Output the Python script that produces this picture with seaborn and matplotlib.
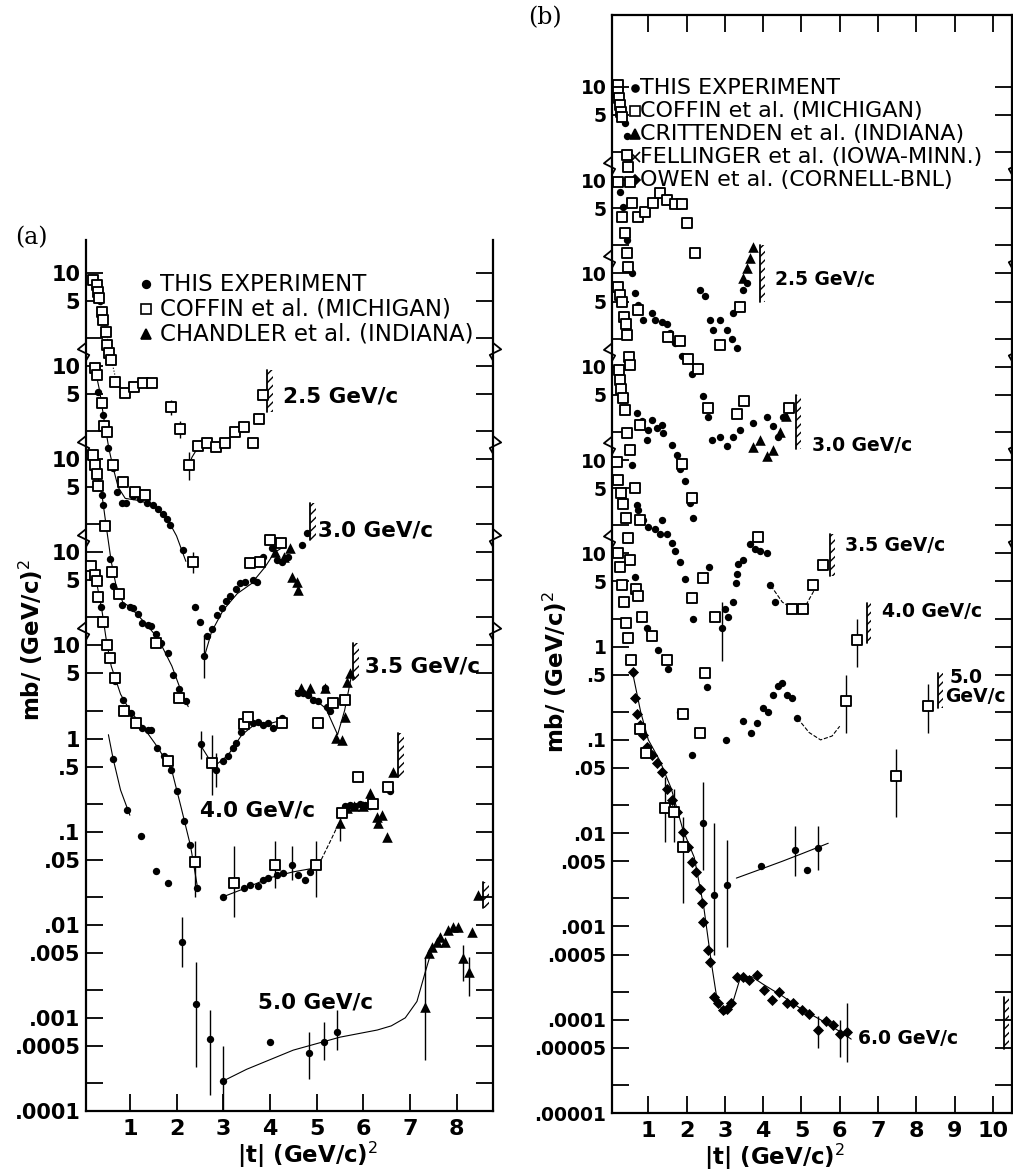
import numpy as np
import pandas as pd
import seaborn as sns
import matplotlib.pyplot as plt
from matplotlib.ticker import FixedLocator, FixedFormatter, NullLocator

sns.set_theme(style="white")
plt.rcParams["font.family"] = ["DejaVu Sans"]
plt.rcParams["text.color"] = "black"
plt.rcParams["hatch.linewidth"] = 1.0

# ---------------- panel (a) data, dsigma/dt in mb/(GeV/c)^2 ----------------
shift_a = {"2.5": 4, "3.0": 3, "3.5": 2, "4.0": 1, "5.0": 0}

a25_sq_t = [.21, .30, .32, .34, .41, .43, .49, .51, .56, .60, .69, .90, 1.09, 1.28, 1.48, 1.88, 2.08,
            2.27, 2.46, 2.66, 2.85, 3.04, 3.25, 3.45, 3.64, 3.77, 3.85]
a25_sq_v = [8.5, 7.4, 6.3, 5.4, 3.8, 3.1, 2.3, 1.7, 1.4, 1.17, .68, .52, .60, .66, .66, .36, .21,
            .087, .14, .15, .135, .15, .195, .22, .15, .27, .49]
a25_dot_t = [.36]
a25_dot_v = [5.0]

a30_dot_t = [.32, .43, .54, .64, .73, .84, .92, 1.07, 1.22, 1.37, 1.50, 1.61, 1.71, 1.80, 1.86, 2.14,
             2.40, 2.51, 2.59, 2.66, 2.76, 2.87, 2.98, 3.06, 3.15, 3.28, 3.36, 3.47, 3.64, 3.73, 3.85,
             4.05, 4.15, 4.26, 4.39, 4.69, 4.80]
a30_dot_v = [5.3, 3.0, 1.32, .81, .45, .34, .34, .40, .37, .34, .32, .29, .26, .23, .196, .105,
             .026, .018, .0077, .0126, .015, .021, .025, .030, .034, .040, .047, .048, .050, .048, .089,
             .112, .083, .079, .089, .12, .162]
a30_sq_t = [.26, .30, .41, .45, .51, .64, .86, 1.11, 1.33, 2.36, 3.58, 3.79, 4.00, 4.24]
a30_sq_v = [9.6, 8.1, 4.0, 2.3, 1.96, .87, .57, .45, .41, .078, .077, .079, .135, .126]
a30_tri_t = [4.10, 4.30, 4.43, 4.48, 4.58, 4.60]
a30_tri_v = [.10, .09, .11, .055, .048, .039]

a35_dot_t = [.41, .43, .58, .64, .84, 1.0, 1.07, 1.18, 1.26, 1.39, 1.46, 1.56, 1.67, 1.82, 1.93, 2.06,
             2.21, 2.53, 2.85, 3.0, 3.10, 3.21, 3.28, 3.38, 3.64, 3.75, 3.85, 3.96, 4.07, 4.26, 4.60,
             4.71, 4.82, 4.93, 5.03, 5.18, 5.22, 5.29]
a35_dot_v = [4.1, 3.2, .85, .44, .27, .26, .25, .22, .175, .167, .16, .133, .106, .083, .048, .034,
             .025, .0087, .0046, .0058, .0065, .0079, .0089, .0118, .0147, .015, .014, .0147, .0129, .0166,
             .031, .031, .029, .026, .025, .035, .022, .020]
a35_sq_t = [.21, .26, .30, .32, .47, .62, .77, 1.56, 2.06, 2.76, 3.45, 3.53, 4.26, 5.03, 5.35, 5.61]
a35_sq_v = [11, 8.7, 6.9, 5.2, 1.9, .62, .36, .106, .027, .0055, .0144, .017, .0147, .0147, .024, .026]
a35_tri_t = [4.67, 4.86, 5.18, 5.42, 5.55, 5.61, 5.65, 5.72]
a35_tri_v = [.035, .035, .035, .0102, .0096, .017, .040, .050]

a40_dot_t = [.39, .69, .86, 1.03, 1.26, 1.39, 1.46, 1.58, 1.73, 1.88, 2.01, 2.16, 2.29, 2.44, 3.0,
             3.45, 3.58, 3.75, 3.85, 3.96, 4.15, 4.28, 4.48, 4.60, 4.75, 4.86, 5.61, 5.72, 5.82, 5.93,
             6.04, 6.15, 6.57]
a40_dot_v = [2.6, .41, .26, .19, .13, .124, .124, .079, .065, .046, .027, .013, .0071, .0025, .002,
             .0025, .0027, .0026, .0030, .0032, .0034, .0036, .0044, .0034, .0030, .0037, .019, .0195,
             .019, .020, .0195, .019, .027]
a40_sq_t = [.17, .26, .30, .32, .43, .51, .58, .69, .88, 1.13, 1.82, 2.40, 3.23, 4.11, 4.99, 5.55,
            5.89, 6.21, 6.53]
a40_sq_v = [7.2, 5.7, 4.9, 3.3, 1.8, 1.02, .74, .45, .20, .148, .057, .0047, .0028, .0044, .0044, .016,
            .039, .020, .030]
a40_tri_t = [5.50, 5.65, 5.80, 6.0, 6.15, 6.30, 6.32, 6.40, 6.51, 6.64]
a40_tri_v = [.0124, .018, .019, .019, .026, .0144, .0124, .015, .0088, .044]

a50_dot_t = [.64, .94, 1.24, 1.56, 1.82, 2.12, 2.42, 2.72, 3.0, 4.0, 4.84, 5.16, 5.44]
a50_dot_v = [.61, .17, .089, .038, .028, .0066, .0014, .00059, .00021, .00055, .00042, .00055, .0007]
a50_tri_t = [7.32, 7.41, 7.47, 7.57, 7.64, 7.75, 7.82, 7.92, 8.03, 8.14, 8.27, 8.33, 8.46]
a50_tri_v = [.0013, .005, .0058, .0066, .0074, .0065, .0088, .0095, .0095, .0044, .0031, .0084, .021]

# hand-drawn curves through the points
a25_fit_t = [.2, .3, .4, .5, .6, .7, .8, .9]
a25_fit_v = [8.6, 6.8, 4.2, 2.2, 1.2, .72, .58, .52]
a25_fit2_t = [2.27, 2.33, 2.4, 2.5, 2.6, 2.75]
a25_fit2_v = [.087, .105, .12, .13, .14, .145]
a30_fit_t = [.25, .35, .45, .55, .65, .75, .9, 1.2, 1.5, 1.8, 2.0, 2.2]
a30_fit_v = [9.5, 5.5, 2.6, 1.3, .78, .5, .38, .36, .32, .23, .15, .08]
a30_fit2_t = [2.6, 2.75, 3.0, 3.3, 3.6, 3.9, 4.1, 4.3]
a30_fit2_v = [.0077, .014, .024, .036, .046, .07, .1, .115]
a35_fit_t = [.22, .3, .4, .5, .6, .7, .85, 1.0, 1.3, 1.6, 1.9, 2.1, 2.25]
a35_fit_v = [11, 7, 4.2, 1.8, .8, .45, .29, .26, .18, .12, .06, .032, .022]
a35_fit2_t = [2.5, 2.8, 3.1, 3.4, 3.7, 4.0, 4.3]
a35_fit2_v = [.0087, .005, .0066, .011, .0145, .0145, .016]
a35_fit3_t = [4.55, 4.9, 5.2, 5.45, 5.6, 5.75]
a35_fit3_v = [.033, .028, .021, .011, .02, .048]
a40_fit_t = [.17, .3, .4, .5, .6, .8, 1.0, 1.3, 1.6, 1.9, 2.1, 2.3, 2.45]
a40_fit_v = [7.2, 4.4, 2.4, 1.1, .6, .3, .2, .13, .08, .045, .018, .007, .0025]
a40_fit2_t = [3.0, 3.5, 4.0, 4.5, 5.0]
a40_fit2_v = [.002, .0025, .0032, .0037, .0041]
a40_fit3_t = [5.1, 5.3, 5.5]
a40_fit3_v = [.005, .008, .013]
a50_fit_t = [.54, .64, .8, 1.0]
a50_fit_v = [1.1, .61, .28, .15]
a50_fit2_t = [3.0, 3.5, 4.5, 5.5, 6.3, 6.6, 6.9, 7.15, 7.32, 7.45]
a50_fit2_v = [.00021, .00028, .00045, .00062, .00074, .00082, .001, .0015, .003, .005]

# error bars (momentum, t, low, high)
a_err_p = ["2.5", "2.5", "2.5", "3.0", "3.0", "3.5", "3.5", "3.5", "4.0", "4.0", "4.0", "4.0", "4.0",
           "4.0", "5.0", "5.0", "5.0", "5.0", "5.0", "5.0", "5.0", "5.0", "5.0", "5.0"]
a_err_t = [1.88, 2.08, 2.27, 2.59, 2.36, 2.76, 2.85, 2.53, 2.40, 3.23, 4.11, 4.48, 4.99, 5.5,
           2.12, 2.42, 2.72, 3.0, 4.84, 5.16, 5.44, 7.32, 8.14, 8.27]
a_err_lo = [.3, .17, .06, .0045, .06, .0025, .003, .006, .002, .0012, .0025, .003, .002, .008,
            .0035, .0003, .00015, .0001, .00022, .00035, .00045, .00035, .0025, .0017]
a_err_hi = [.43, .26, .12, .013, .1, .011, .007, .012, .008, .007, .008, .007, .008, .017,
            .012, .004, .0012, .0005, .0007, .0009, .0012, .0045, .006, .0045]

# kinematic limits (t, low, high)
a_lim_p = ["2.5", "3.0", "3.5", "4.0", "5.0"]
a_lim_t = [3.94, 4.86, 5.78, 6.75, 8.57]
a_lim_lo = [.32, .135, .043, .039, .015]
a_lim_hi = [.91, .34, .107, .115, .029]

# ---------------- panel (b) data ----------------
shift_b = {"2.5": 5, "3.0": 4, "3.5": 3, "4.0": 2, "5.0": 1, "6.0": 0}

b25_sq_t = [.20, .22, .24, .26, .28, .30, .44, .47, .52, .57, .73, .91, 1.12, 1.31, 1.49, 1.70, 1.88,
            2.01, 2.22, 2.87, 3.39]
b25_sq_v = [10.4, 8.8, 7.6, 6.4, 5.4, 4.7, 1.85, 1.38, .95, .57, .40, .45, .57, .72, .61, .55, .55,
            .35, .166, .017, .044]
b25_dot_t = [.39, .44, 2.35, 2.48, 2.61, 2.69, 2.87, 3.05, 3.19, 3.32, 3.21, 3.47, 3.58]
b25_dot_v = [4.1, 3.0, .066, .057, .032, .025, .032, .025, .020, .016, .038, .066, .078]
b25_tri_t = [3.47, 3.58, 3.66, 3.73]
b25_tri_v = [.089, .115, .147, .19]

b30_dot_t = [.26, .34, .44, .57, .65, .73, .86, 1.10, 1.17, 1.36, 1.49, 1.57, 1.70, 1.88, 2.14, 2.43,
             2.56, 2.66, 2.87, 3.05, 3.21, 3.39, 3.73, 4.10, 4.26, 4.39, 4.52]
b30_dot_v = [7.4, 5.1, 2.3, 1.0, .62, .46, .32, .38, .32, .30, .29, .23, .18, .13, .083, .049,
             .029, .0163, .0175, .014, .0175, .021, .025, .029, .023, .0175, .029]
b30_sq_t = [.20, .31, .39, .44, .47, .73, 1.51, 1.83, 2.04, 2.30, 2.56, 3.32, 3.50, 4.67]
b30_sq_v = [9.5, 4.0, 2.7, 1.65, 1.17, .41, .21, .19, .12, .094, .036, .031, .043, .036]
b30_tri_t = [3.73, 3.92, 4.10, 4.26, 4.45, 4.6]
b30_tri_v = [.0138, .0163, .011, .0128, .02, .03]

b35_sq_t = [.21, .26, .31, .37, .42, .44, .50, .52, .78, 1.88, 2.14, 2.43, 2.74, 3.86, 4.75, 5.04,
            5.30, 5.56]
b35_sq_v = [7.1, 5.9, 4.9, 3.4, 2.9, 2.2, 1.27, 1.04, .24, .091, .039, .0054, .0021, .0148, .0025,
            .0025, .0046, .0075]
b35_dot_t = [.70, .84, .99, 1.10, 1.23, 1.36, 1.38, .97, 1.62, 1.75, 1.83, 1.96, 2.09, 2.17, 2.58,
             2.92, 3.0, 3.08, 3.21, 3.29, 3.32, 3.47, 3.34, 3.66, 3.79, 3.92, 4.10, 4.18, 4.31]
b35_dot_v = [.32, .26, .21, .27, .22, .24, .197, .165, .145, .113, .08, .059, .035, .024, .0071,
             .0016, .0025, .0021, .003, .0048, .006, .0085, .0077, .0127, .011, .0105, .0102, .0046, .003]

b40_sq_t = [.23, .26, .29, .34, .39, .44, .52, .65, .78, 2.14, 2.49, 6.17, 6.45]
b40_sq_v = [9.2, 7.2, 5.7, 4.6, 3.4, 1.94, 1.28, .50, .23, .033, .0052, .0026, .0117]
b40_dot_t = [.57, .70, .73, .86, .99, 1.17, 1.36, 1.31, 1.49, 1.62, 1.70, 1.83, 1.96, 2.09, 2.17,
             2.54, 3.03, 3.47, 3.68, 3.84, 4.0, 4.13, 4.26, 4.39, 4.49, 4.62, 4.75, 4.88]
b40_dot_v = [.88, .33, .29, .23, .19, .18, .23, .16, .16, .13, .106, .081, .053, .035, .02,
             .0037, .001, .0016, .0012, .0015, .0022, .002, .003, .0038, .0041, .003, .0028, .0017]

b50_sq_t = [.18, .21, .29, .34, .42, .47, .52, .68, .73, .84, 1.10, 1.49, 1.91, 2.35, 7.47, 8.30]
b50_sq_v = [9.5, 6.1, 4.4, 3.4, 2.4, 1.46, .85, .41, .35, .21, .13, .071, .019, .012, .0041, .023]
b50_dot_t = [.65, .97, 1.25, 1.51, 1.83, 2.14, 2.43, 2.72, 3.05, 3.94, 4.83, 5.14, 5.43]
b50_dot_v = [.56, .16, .092, .057, .020, .0069, .0013, .00022, .00028, .00044, .00066, .0004, .00069]

b60_sq_t = [.21, .26, .31, .37, .42, .47, .55, .78, .94, 1.44, 1.67, 1.90]
b60_sq_v = [10, 7.1, 4.6, 3.0, 1.78, 1.23, .72, .13, .072, .0186, .017, .0071]
b60_dia_t = [.6, .65, .7, .78, .86, .97, 1.1, 1.22, 1.36, 1.48, 1.62, 1.75, 1.9, 2.04, 2.14, 2.25,
             2.35, 2.4, 2.43, 2.56, 2.61, 2.72, 2.82, 2.95, 3.05, 3.16, 3.32, 3.47, 3.63, 3.84, 4.02,
             4.23, 4.41, 4.62, 4.78, 5.01, 5.2, 5.43, 5.64, 5.82, 6.0, 6.19]
b60_dia_v = [.53, .28, .19, .145, .112, .083, .069, .056, .045, .030, .0225, .017, .0102, .0071,
             .0049, .0038, .0025, .0018, .00112, .00056, .00042, .000174, .00015, .000127, .00013,
             .00015, .00029, .00029, .00027, .0003, .00021, .000163, .0002, .00015, .00015, .000127,
             .000115, .000078, .000097, .000088, .00007, .000074]

b60_fit_t = [.6, .8, 1.0, 1.3, 1.6, 1.9, 2.2, 2.45, 2.65, 2.8, 3.0, 3.2, 3.4, 3.7, 4.0, 4.5, 5.0,
             5.5, 6.0, 6.3]
b60_fit_v = [.5, .2, .1, .06, .03, .011, .0055, .0016, .0004, .00016, .000115, .00015, .00028,
             .00029, .00024, .00018, .00013, .0001, .000075, .000062]
b50_fit_t = [3.3, 4.0, 4.5, 5.0, 5.7]
b50_fit_v = [.00033, .00042, .0005, .0006, .00078]
b40_fit_t = [4.9, 5.2, 5.5, 5.8, 6.0]
b40_fit_v = [.0017, .0012, .001, .0011, .0014]
b35_fit_t = [4.2, 4.5, 4.8, 5.1, 5.4]
b35_fit_v = [.0045, .003, .0025, .0027, .0045]

b_err_p = ["6.0", "6.0", "6.0", "6.0", "6.0", "6.0", "5.0", "5.0", "5.0", "5.0", "5.0", "5.0", "5.0",
           "4.0", "4.0", "3.5"]
b_err_t = [6.19, 5.43, 6.0, 1.44, 1.67, 1.9, 2.43, 2.72, 3.05, 4.83, 5.43, 7.47, 8.30, 6.45, 6.17, 2.92]
b_err_lo = [.000035, .00005, .00004, .008, .008, .0018, .0004, .00005, .00006, .00035, .0004, .0015,
            .012, .006, .0012, .0007]
b_err_hi = [.00015, .00011, .0001, .04, .03, .015, .0035, .0013, .00085, .0012, .0012, .008, .04,
            .02, .005, .003]

b_lim_p = ["2.5", "3.0", "3.5", "4.0", "5.0", "6.0"]
b_lim_t = [3.92, 4.85, 5.75, 6.70, 8.56, 10.3]
b_lim_lo = [.05, .013, .0057, .011, .022, .0000484]
b_lim_hi = [.2, .05, .016, .029, .052, .000175]

# ---------------- drawing helpers ----------------
STYLE = {
    "dot": dict(marker="o", color="black", s=28, linewidth=0, zorder=4),
    "sq": dict(marker="s", color="white", edgecolor="black", s=44, linewidth=1.35, zorder=5),
    "tri": dict(marker="^", color="black", s=58, linewidth=0, zorder=4),
    "dia": dict(marker="D", color="black", s=32, linewidth=0, zorder=4),
}


def points(ax, t, v, s, kind):
    y = np.asarray(v, dtype=float) * 10.0 ** s
    sns.scatterplot(x=np.asarray(t), y=y, ax=ax, legend=False, **STYLE[kind])


def curve(ax, t, v, s, ls="-"):
    df = pd.DataFrame({"t": t, "y": np.asarray(v, dtype=float) * 10.0 ** s})
    sns.lineplot(data=df, x="t", y="y", ax=ax, color="black", lw=0.8, ls=ls, sort=False,
                 estimator=None, legend=False, zorder=3)


def errors(ax, p, t, lo, hi, shifts):
    f = np.array([10.0 ** shifts[k] for k in p])
    ax.vlines(t, np.asarray(lo) * f, np.asarray(hi) * f, color="black", lw=1.0, zorder=3)


def limits(ax, p, t, lo, hi, shifts, w):
    for k, ti, l, h in zip(p, t, lo, hi):
        f = 10.0 ** shifts[k]
        ax.plot([ti, ti], [l * f, h * f], color="black", lw=1.3)
        ax.fill_betweenx([l * f, h * f], ti, ti + w, facecolor="none", edgecolor="black",
                         hatch="////", linewidth=0)


def label_fmt(v):
    if v >= 1:
        return str(int(round(v)))
    return np.format_float_positional(v, trim="-").lstrip("0")


def set_y_ticks(ax, top_shift, base_vals, size):
    locs, labs = [], []
    for s in range(top_shift, 0, -1):
        for m in (10, 5, 2):
            locs.append(m * 10.0 ** s)
            labs.append("" if m == 2 else str(m))
    for v in base_vals:
        locs.append(v)
        lead = float(f"{v:e}"[0])
        labs.append("" if lead == 2 else label_fmt(v))
    ax.yaxis.set_major_locator(FixedLocator(locs))
    ax.yaxis.set_major_formatter(FixedFormatter(labs))
    ax.yaxis.set_minor_locator(NullLocator())
    ax.tick_params(axis="y", labelsize=size)


def zigzags(ax, levels, side):
    tr = ax.get_yaxis_transform()
    for L in levels:
        if side == "left":
            xs = [0, -0.02, 0.008, 0]
        else:
            xs = [1, 1.02, 0.992, 1]
        ys = [10 ** (L + 0.10), 10 ** (L + 0.03), 10 ** (L - 0.03), 10 ** (L - 0.09)]
        ax.plot(xs, ys, transform=tr, color="black", lw=1.3, clip_on=False, zorder=6)


fig = plt.figure(figsize=(10.13, 11.73), dpi=100)
ax_a = fig.add_axes([0.0849, 0.0529, 0.4018, 0.7425])
ax_b = fig.add_axes([0.6041, 0.0511, 0.3949, 0.9361])
for ax in (ax_a, ax_b):
    ax.set_yscale("log")
    ax.set_facecolor("white")

# ---------------- panel (a) ----------------
sa = shift_a
points(ax_a, a25_sq_t, a25_sq_v, sa["2.5"], "sq")
points(ax_a, a25_dot_t, a25_dot_v, sa["2.5"], "dot")
points(ax_a, a30_dot_t, a30_dot_v, sa["3.0"], "dot")
points(ax_a, a30_sq_t, a30_sq_v, sa["3.0"], "sq")
points(ax_a, a30_tri_t, a30_tri_v, sa["3.0"], "tri")
points(ax_a, a35_dot_t, a35_dot_v, sa["3.5"], "dot")
points(ax_a, a35_sq_t, a35_sq_v, sa["3.5"], "sq")
points(ax_a, a35_tri_t, a35_tri_v, sa["3.5"], "tri")
points(ax_a, a40_dot_t, a40_dot_v, sa["4.0"], "dot")
points(ax_a, a40_sq_t, a40_sq_v, sa["4.0"], "sq")
points(ax_a, a40_tri_t, a40_tri_v, sa["4.0"], "tri")
points(ax_a, a50_dot_t, a50_dot_v, sa["5.0"], "dot")
points(ax_a, a50_tri_t, a50_tri_v, sa["5.0"], "tri")

curve(ax_a, a25_fit_t, a25_fit_v, sa["2.5"], ":")
curve(ax_a, a25_fit2_t, a25_fit2_v, sa["2.5"])
curve(ax_a, a30_fit_t, a30_fit_v, sa["3.0"])
curve(ax_a, a30_fit2_t, a30_fit2_v, sa["3.0"])
curve(ax_a, a35_fit_t, a35_fit_v, sa["3.5"])
curve(ax_a, a35_fit2_t, a35_fit2_v, sa["3.5"])
curve(ax_a, a35_fit3_t, a35_fit3_v, sa["3.5"])
curve(ax_a, a40_fit_t, a40_fit_v, sa["4.0"])
curve(ax_a, a40_fit2_t, a40_fit2_v, sa["4.0"])
curve(ax_a, a40_fit3_t, a40_fit3_v, sa["4.0"], "--")
curve(ax_a, a50_fit_t, a50_fit_v, sa["5.0"])
curve(ax_a, a50_fit2_t, a50_fit2_v, sa["5.0"])
errors(ax_a, a_err_p, a_err_t, a_err_lo, a_err_hi, sa)
limits(ax_a, a_lim_p, a_lim_t, a_lim_lo, a_lim_hi, sa, 0.13)

ax_a.set_xlim(0.06, 8.78)
ax_a.set_ylim(1e-4, 10 ** 5.355)
set_y_ticks(ax_a, 4, [10, 5, 2, 1, .5, .2, .1, .05, .02, .01, .005, .002, .001, .0005, .0002,
                      .0001], 15)
ax_a.set_xticks(range(1, 9))
ax_a.tick_params(axis="both", direction="in", length=12, width=1.3, pad=4, right=True,
                 left=True, bottom=True, top=False, color="black", labelcolor="black")
ax_a.tick_params(axis="x", labelsize=16, pad=6)
for side in ("left", "right", "bottom"):
    ax_a.spines[side].set_color("black")
    ax_a.spines[side].set_linewidth(1.6)
ax_a.spines["top"].set_visible(False)
zigzags(ax_a, [1.15, 2.15, 3.15, 4.15], "left")
zigzags(ax_a, [1.15, 2.15, 3.15, 4.15], "right")

for txt, t, L in [("2.5 GeV/c", 4.28, 3.67), ("3.0 GeV/c", 5.03, 2.24), ("3.5 GeV/c", 6.04, 0.77),
                  ("4.0 GeV/c", 2.5, -0.77), ("5.0 GeV/c", 3.75, -2.84)]:
    ax_a.text(t, 10 ** L, txt, fontsize=15.5, fontweight="bold", va="center", ha="left",
              color="black")

leg_a = [("o", "black", "THIS EXPERIMENT"), ("s", "white", "COFFIN et al. (MICHIGAN)"),
         ("^", "black", "CHANDLER et al. (INDIANA)")]
for i, (mk, fc, txt) in enumerate(leg_a):
    yy = 0.949 - i * 0.0287
    ax_a.plot([0.148], [yy], marker=mk, ms=7 if mk != "o" else 5.5, mfc=fc, mec="black", mew=1.2,
              transform=ax_a.transAxes, ls="")
    ax_a.text(0.182, yy, txt, fontsize=16.5, va="center", ha="left", color="black",
              transform=ax_a.transAxes)

# ---------------- panel (b) ----------------
sb = shift_b
points(ax_b, b25_sq_t, b25_sq_v, sb["2.5"], "sq")
points(ax_b, b25_dot_t, b25_dot_v, sb["2.5"], "dot")
points(ax_b, b25_tri_t, b25_tri_v, sb["2.5"], "tri")
points(ax_b, b30_dot_t, b30_dot_v, sb["3.0"], "dot")
points(ax_b, b30_sq_t, b30_sq_v, sb["3.0"], "sq")
points(ax_b, b30_tri_t, b30_tri_v, sb["3.0"], "tri")
points(ax_b, b35_dot_t, b35_dot_v, sb["3.5"], "dot")
points(ax_b, b35_sq_t, b35_sq_v, sb["3.5"], "sq")
points(ax_b, b40_dot_t, b40_dot_v, sb["4.0"], "dot")
points(ax_b, b40_sq_t, b40_sq_v, sb["4.0"], "sq")
points(ax_b, b50_dot_t, b50_dot_v, sb["5.0"], "dot")
points(ax_b, b50_sq_t, b50_sq_v, sb["5.0"], "sq")
points(ax_b, b60_sq_t, b60_sq_v, sb["6.0"], "sq")
points(ax_b, b60_dia_t, b60_dia_v, sb["6.0"], "dia")

curve(ax_b, b60_fit_t, b60_fit_v, sb["6.0"])
curve(ax_b, b50_fit_t, b50_fit_v, sb["5.0"])
curve(ax_b, b40_fit_t, b40_fit_v, sb["4.0"], "--")
curve(ax_b, b35_fit_t, b35_fit_v, sb["3.5"], "--")
errors(ax_b, b_err_p, b_err_t, b_err_lo, b_err_hi, sb)
limits(ax_b, b_lim_p, b_lim_t, b_lim_lo, b_lim_hi, sb, 0.13)

ax_b.set_xlim(0.05, 10.5)
ax_b.set_ylim(1e-5, 10 ** 6.77)
set_y_ticks(ax_b, 5, [10, 5, 2, 1, .5, .2, .1, .05, .02, .01, .005, .002, .001, .0005, .0002,
                      .0001, .00005, .00002, .00001], 13.5)
ax_b.set_xticks(range(1, 11))
ax_b.tick_params(axis="both", direction="in", length=12, width=1.3, pad=4, right=True,
                 left=True, bottom=True, top=True, color="black", labelcolor="black")
ax_b.tick_params(axis="x", labelsize=16, pad=6)
for side in ("left", "right", "bottom", "top"):
    ax_b.spines[side].set_color("black")
    ax_b.spines[side].set_linewidth(1.6)
zigzags(ax_b, [1.15, 2.15, 3.15, 4.15, 5.15], "left")
zigzags(ax_b, [1.15, 2.15, 3.15, 4.15, 5.15], "right")

for txt, t, L in [("2.5 GeV/c", 4.3, 3.93), ("3.0 GeV/c", 5.27, 2.16), ("3.5 GeV/c", 6.14, 1.08),
                  ("4.0 GeV/c", 7.1, 0.38), ("5.0", 8.88, -0.33), ("GeV/c", 8.75, -0.54),
                  ("6.0 GeV/c", 6.48, -4.2)]:
    ax_b.text(t, 10 ** L, txt, fontsize=13.5, fontweight="bold", va="center", ha="left",
              color="black")

leg_b = [("o", "black", "THIS EXPERIMENT"), ("s", "white", "COFFIN et al. (MICHIGAN)"),
         ("^", "black", "CRITTENDEN et al. (INDIANA)"), ("x", "black", "FELLINGER et al. (IOWA-MINN.)"),
         ("D", "black", "OWEN et al. (CORNELL-BNL)")]
for i, (mk, fc, txt) in enumerate(leg_b):
    yy = 0.9335 - i * 0.0209
    ax_b.plot([0.058], [yy], marker=mk, ms=5 if mk in "oD" else 6.5, mfc=fc, mec="black", mew=1.2,
              transform=ax_b.transAxes, ls="")
    ax_b.text(0.07, yy, txt, fontsize=16, va="center", ha="left", color="black",
              transform=ax_b.transAxes)

# seaborn puts column names on the axes; the original has its own titles
for ax in (ax_a, ax_b):
    ax.set_xlabel("")
    ax.set_ylabel("")
    for lab in ax.get_xticklabels() + ax.get_yticklabels():
        lab.set_fontweight("bold")

# ---------------- figure-level text ----------------
fig.text(15 / 1013, 1 - 238 / 1173, "(a)", fontsize=17, family="DejaVu Serif", va="center")
fig.text(528 / 1013, 1 - 18 / 1173, "(b)", fontsize=17, family="DejaVu Serif", va="center")
fig.text(31 / 1013, 1 - 640 / 1173, "mb/ (GeV/c)$^2$", rotation=90, fontsize=16.5,
         fontweight="bold", va="center", ha="center")
fig.text(555 / 1013, 1 - 672 / 1173, "mb/ (GeV/c)$^2$", rotation=90, fontsize=16.5,
         fontweight="bold", va="center", ha="center")
fig.text(308 / 1013, 1 - 1155 / 1173, "|t| (GeV/c)$^2$", fontsize=16.5, fontweight="bold",
         va="center", ha="center")
fig.text(775 / 1013, 1 - 1157 / 1173, "|t| (GeV/c)$^2$", fontsize=16.5, fontweight="bold",
         va="center", ha="center")

fig.savefig("out.png", dpi=100, facecolor="white")
